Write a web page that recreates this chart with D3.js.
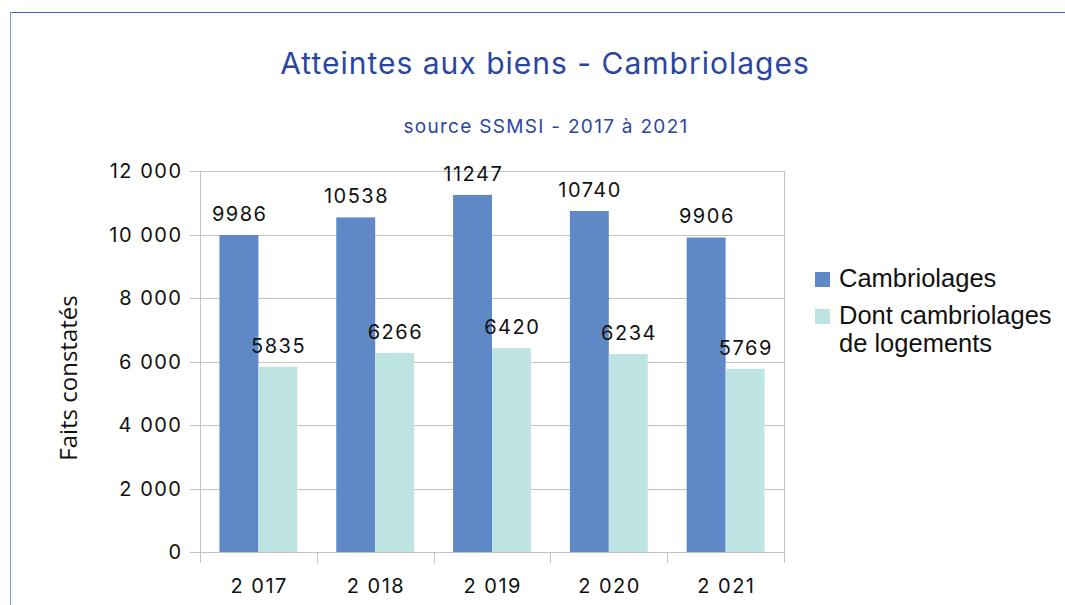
<!DOCTYPE html>
<html><head><meta charset="utf-8">
<script src="https://cdn.jsdelivr.net/npm/d3@7"></script>
<style>body{margin:0;background:#fff;}svg{display:block;}</style>
</head><body>
<svg id="c" width="1065" height="605"></svg>
<script>
const categories = ["2017", "2018", "2019", "2020", "2021"];
const categoryLabels = ["2 017", "2 018", "2 019", "2 020", "2 021"];
const seriesNames = ["Cambriolages", "Dont cambriolages de logements"];
const cambriolages = [9986, 10538, 11247, 10740, 9906];
const logements = [5835, 6266, 6420, 6234, 5769];
const yTicks = [0, 2000, 4000, 6000, 8000, 10000, 12000];
const yTickLabels = ["0", "2 000", "4 000", "6 000", "8 000", "10 000", "12 000"];
const colors = ["#5e89c6", "#bde4e3"];

const svg = d3.select("#c");
const L = 200, R = 784, T = 171, B = 552;
const gridColor = "#c4c4c4";
const numFont = "Inter, 'Noto Sans', sans-serif";
const numLS = 1.5;

// outer frame
svg.append("line").attr("x1", 10).attr("x2", 1065).attr("y1", 12.5).attr("y2", 12.5)
  .attr("stroke", "#3d62c0").attr("stroke-width", 1.2);
svg.append("line").attr("x1", 10.5).attr("x2", 10.5).attr("y1", 12).attr("y2", 605)
  .attr("stroke", "#7d97d8").attr("stroke-width", 1);

// titles
svg.append("text").attr("x", 545).attr("y", 74).attr("text-anchor", "middle")
  .attr("font-family", numFont).attr("font-size", 30).attr("letter-spacing", 1).attr("fill", "#2b46a2")
  .text("Atteintes aux biens - Cambriolages");
svg.append("text").attr("x", 546).attr("y", 133).attr("text-anchor", "middle")
  .attr("font-family", numFont).attr("font-size", 19).attr("letter-spacing", 1.3).attr("fill", "#2b46a2")
  .text("source SSMSI - 2017 à 2021");

const x0 = d3.scaleBand().domain(categories).range([L, R]).paddingInner(0).paddingOuter(0);
const x1 = d3.scaleBand().domain(seriesNames).range([0, x0.bandwidth()]).paddingInner(0).paddingOuter(0.5);
const y = d3.scaleLinear().domain([0, 12000]).range([B, T]);

// gridlines
svg.append("g").selectAll("line").data(yTicks).join("line")
  .attr("x1", L - 10).attr("x2", R).attr("y1", d => Math.round(y(d)) + 0.5).attr("y2", d => Math.round(y(d)) + 0.5)
  .attr("stroke", gridColor).attr("stroke-width", 1);
// y axis line and right border
svg.append("line").attr("x1", L + 0.5).attr("x2", L + 0.5).attr("y1", T).attr("y2", B + 11).attr("stroke", gridColor);
svg.append("line").attr("x1", R + 0.5).attr("x2", R + 0.5).attr("y1", T).attr("y2", B + 11).attr("stroke", gridColor);
// x ticks at category boundaries
const bounds = categories.map(c => x0(c)).concat([R]);
svg.append("g").selectAll("line").data(bounds.slice(1, -1)).join("line")
  .attr("x1", d => Math.round(d) + 0.5).attr("x2", d => Math.round(d) + 0.5).attr("y1", B).attr("y2", B + 11)
  .attr("stroke", gridColor);

// y tick labels
svg.append("g").selectAll("text").data(yTicks).join("text")
  .attr("x", 181 + numLS).attr("y", d => y(d)).attr("dy", "0.35em").attr("text-anchor", "end")
  .attr("font-family", numFont).attr("font-size", 20).attr("letter-spacing", numLS).attr("fill", "#111")
  .text((d, i) => yTickLabels[i]);

// x labels
svg.append("g").selectAll("text").data(categories).join("text")
  .attr("x", d => x0(d) + x0.bandwidth() / 2 + numLS / 2).attr("y", 593).attr("text-anchor", "middle")
  .attr("font-family", numFont).attr("font-size", 20).attr("letter-spacing", numLS).attr("fill", "#111")
  .text((d, i) => categoryLabels[i]);

// y axis title
svg.append("text").attr("transform", "translate(77,378) rotate(-90)").attr("text-anchor", "middle")
  .attr("font-family", "'Open Sans', sans-serif").attr("font-size", 24).attr("fill", "#111")
  .text("Faits constatés");

// bars
const seriesVals = [cambriolages, logements];
seriesNames.forEach((s, si) => {
  const g = svg.append("g");
  g.selectAll("rect").data(categories).join("rect")
    .attr("x", c => x0(c) + x1(s)).attr("width", x1.bandwidth())
    .attr("y", (c, i) => y(seriesVals[si][i])).attr("height", (c, i) => B - y(seriesVals[si][i]))
    .attr("fill", colors[si]);
  g.selectAll("text").data(categories).join("text")
    .attr("x", c => x0(c) + x1(s) + x1.bandwidth() / 2 + numLS / 2)
    .attr("y", (c, i) => y(seriesVals[si][i]) - 14)
    .attr("text-anchor", "middle").attr("font-family", numFont).attr("font-size", 20)
    .attr("letter-spacing", numLS).attr("fill", "#111")
    .text((c, i) => seriesVals[si][i]);
});

// legend
const legend = [
  { lines: ["Cambriolages"], y: 272 },
  { lines: ["Dont cambriolages", "de logements"], y: 309 }
];
legend.forEach((d, i) => {
  svg.append("rect").attr("x", 815).attr("y", d.y).attr("width", 15).attr("height", 15).attr("fill", colors[i]);
  const t = svg.append("text").attr("x", 839).attr("y", d.y + 15)
    .attr("font-family", "'Liberation Sans', Arial, sans-serif").attr("font-size", 25.5).attr("fill", "#111");
  d.lines.forEach((ln, j) => t.append("tspan").attr("x", 839).attr("dy", j === 0 ? 0 : 28).text(ln));
});
</script>
</body></html>
